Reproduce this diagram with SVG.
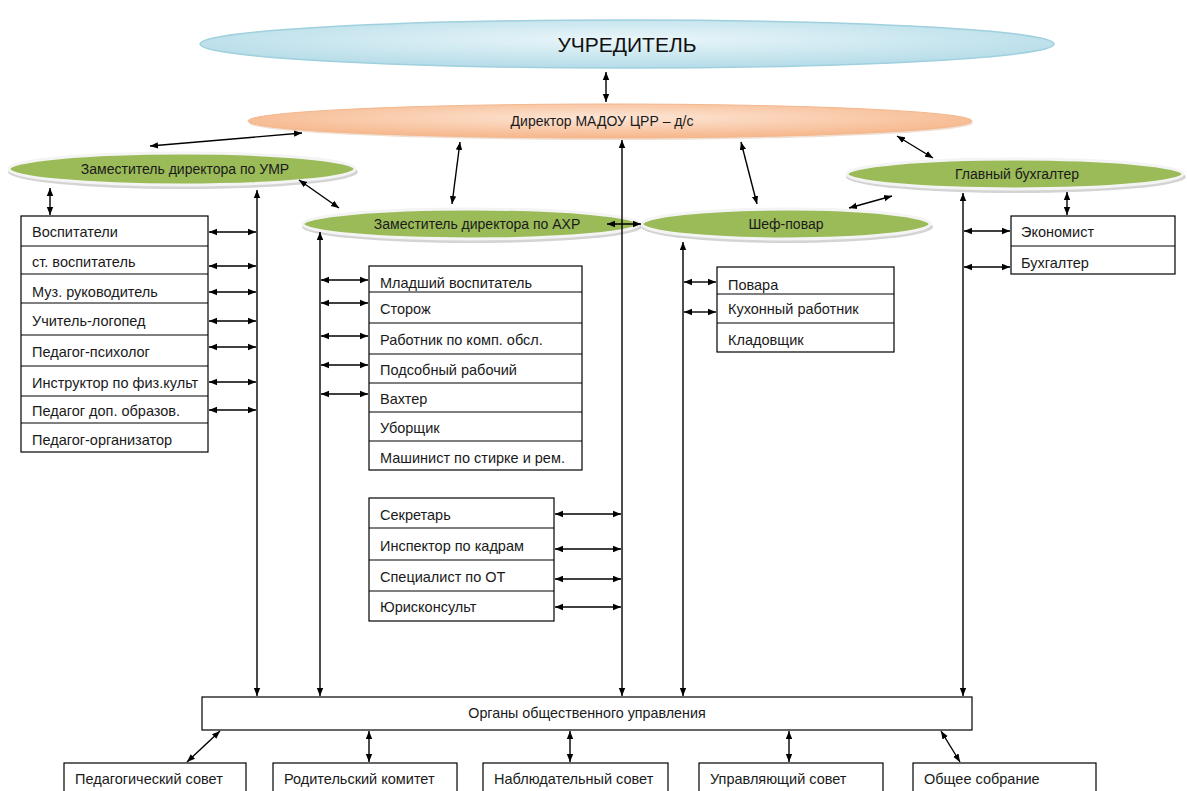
<svg xmlns="http://www.w3.org/2000/svg" width="1187" height="791" viewBox="0 0 1187 791">
<defs>
<radialGradient id="gBlue" cx="50%" cy="40%" r="60%">
<stop offset="0" stop-color="#eaf6fa"/><stop offset="1" stop-color="#b5dce8"/>
</radialGradient>
<radialGradient id="gPeach" cx="50%" cy="40%" r="60%">
<stop offset="0" stop-color="#fde6d6"/><stop offset="1" stop-color="#f6b68a"/>
</radialGradient>
<marker id="ah" viewBox="0 0 10 10" refX="10" refY="5" markerWidth="8" markerHeight="8" markerUnits="userSpaceOnUse" orient="auto-start-reverse">
<path d="M0,1 L10,5 L0,9 z" fill="#000"/>
</marker>
</defs>
<style>
.t{font-family:"Liberation Sans",Arial,sans-serif;font-size:14.5px;fill:#1a1a1a}
.tc{font-family:"Liberation Sans",Arial,sans-serif;font-size:14px;fill:#1a1a1a;text-anchor:middle}
.box{fill:#fff;stroke:#000;stroke-width:1.2}
.sh{fill:#d4d4d4}
.gr{fill:#9bbb59;stroke:#f4f4f4;stroke-width:3}
.c line{stroke:#000;stroke-width:1.4;marker-start:url(#ah);marker-end:url(#ah)}
</style>
<rect width="1187" height="791" fill="#fff"/>

<g id="uchreditel">
<ellipse cx="627" cy="44" rx="427" ry="24" fill="url(#gBlue)" stroke="#9fd0de" stroke-width="1.5"/>
<text x="627" y="52" class="tc" style="font-size:21px;fill:#111">УЧРЕДИТЕЛЬ</text>
</g>

<g id="director">
<ellipse cx="611" cy="123" rx="362" ry="17" fill="#e6c9b4" opacity="0.6"/>
<ellipse cx="610" cy="121" rx="362" ry="17" fill="url(#gPeach)" stroke="#f3b88e" stroke-width="1"/>
<text x="602" y="126" class="tc">Директор МАДОУ ЦРР – д/с</text>
</g>

<g id="zam-umr">
<ellipse cx="183" cy="172" rx="175" ry="17" class="sh"/>
<ellipse cx="182" cy="169" rx="173" ry="16" class="gr"/>
<text x="185" y="174" class="tc">Заместитель директора по УМР</text>
</g>

<g id="zam-axr">
<ellipse cx="472" cy="227" rx="170" ry="16" class="sh"/>
<ellipse cx="471" cy="224" rx="168" ry="15" class="gr"/>
<text x="477" y="229" class="tc">Заместитель директора по АХР</text>
</g>

<g id="chef">
<ellipse cx="787" cy="227" rx="146" ry="16" class="sh"/>
<ellipse cx="786" cy="224" rx="144" ry="15" class="gr"/>
<text x="786" y="229" class="tc">Шеф-повар</text>
</g>

<g id="glavbuh">
<ellipse cx="1016" cy="177" rx="170" ry="16" class="sh"/>
<ellipse cx="1015" cy="174" rx="168" ry="15" class="gr"/>
<text x="1017" y="179" class="tc">Главный бухгалтер</text>
</g>

<g id="umr-staff">
<rect x="21" y="216" width="187" height="236" class="box"/>
<line x1="21" y1="246" x2="208" y2="246" stroke="#000" stroke-width="1.2"/>
<line x1="21" y1="274" x2="208" y2="274" stroke="#000" stroke-width="1.2"/>
<line x1="21" y1="303" x2="208" y2="303" stroke="#000" stroke-width="1.2"/>
<line x1="21" y1="335" x2="208" y2="335" stroke="#000" stroke-width="1.2"/>
<line x1="21" y1="366" x2="208" y2="366" stroke="#000" stroke-width="1.2"/>
<line x1="21" y1="396" x2="208" y2="396" stroke="#000" stroke-width="1.2"/>
<line x1="21" y1="423" x2="208" y2="423" stroke="#000" stroke-width="1.2"/>
<text x="32" y="237" class="t">Воспитатели</text>
<text x="32" y="267" class="t">ст. воспитатель</text>
<text x="32" y="297" class="t">Муз. руководитель</text>
<text x="32" y="326" class="t">Учитель-логопед</text>
<text x="32" y="357" class="t">Педагог-психолог</text>
<text x="32" y="388" class="t">Инструктор по физ.культ</text>
<text x="32" y="416" class="t">Педагог доп. образов.</text>
<text x="32" y="445" class="t">Педагог-организатор</text>
</g>

<g id="axr-staff">
<rect x="369" y="266" width="213" height="204" class="box"/>
<line x1="369" y1="292" x2="582" y2="292" stroke="#000" stroke-width="1.2"/>
<line x1="369" y1="323" x2="582" y2="323" stroke="#000" stroke-width="1.2"/>
<line x1="369" y1="354" x2="582" y2="354" stroke="#000" stroke-width="1.2"/>
<line x1="369" y1="383" x2="582" y2="383" stroke="#000" stroke-width="1.2"/>
<line x1="369" y1="412" x2="582" y2="412" stroke="#000" stroke-width="1.2"/>
<line x1="369" y1="441" x2="582" y2="441" stroke="#000" stroke-width="1.2"/>
<text x="380" y="288" class="t">Младший воспитатель</text>
<text x="380" y="314" class="t">Сторож</text>
<text x="380" y="345" class="t">Работник по комп. обсл.</text>
<text x="380" y="375" class="t">Подсобный рабочий</text>
<text x="380" y="404" class="t">Вахтер</text>
<text x="380" y="433" class="t">Уборщик</text>
<text x="380" y="463" class="t">Машинист по стирке и рем.</text>
</g>

<g id="admin-staff">
<rect x="369" y="498" width="185" height="123" class="box"/>
<line x1="369" y1="528" x2="554" y2="528" stroke="#000" stroke-width="1.2"/>
<line x1="369" y1="560" x2="554" y2="560" stroke="#000" stroke-width="1.2"/>
<line x1="369" y1="591" x2="554" y2="591" stroke="#000" stroke-width="1.2"/>
<text x="380" y="520" class="t">Секретарь</text>
<text x="380" y="551" class="t">Инспектор по кадрам</text>
<text x="380" y="582" class="t">Специалист по ОТ</text>
<text x="380" y="612" class="t">Юрисконсульт</text>
</g>

<g id="kitchen-staff">
<rect x="717" y="267" width="177" height="85" class="box"/>
<line x1="717" y1="294" x2="894" y2="294" stroke="#000" stroke-width="1.2"/>
<line x1="717" y1="323" x2="894" y2="323" stroke="#000" stroke-width="1.2"/>
<text x="728" y="290" class="t">Повара</text>
<text x="728" y="314" class="t">Кухонный  работник</text>
<text x="728" y="345" class="t">Кладовщик</text>
</g>

<g id="buh-staff">
<rect x="1011" y="216" width="164" height="58" class="box"/>
<line x1="1011" y1="246" x2="1175" y2="246" stroke="#000" stroke-width="1.2"/>
<text x="1021" y="237" class="t">Экономист</text>
<text x="1021" y="268" class="t">Бухгалтер</text>
</g>

<g id="organy">
<rect x="202" y="697" width="770" height="33" class="box"/>
<text x="587" y="718" class="tc" style="font-size:14.3px">Органы общественного управления</text>
</g>

<g id="ped-sovet">
<rect x="64" y="763" width="182" height="40" class="box"/>
<text x="75" y="784" class="t">Педагогический совет</text>
</g>
<g id="rod-komitet">
<rect x="273" y="763" width="184" height="40" class="box"/>
<text x="284" y="784" class="t">Родительский комитет</text>
</g>
<g id="nabl-sovet">
<rect x="483" y="763" width="185" height="40" class="box"/>
<text x="494" y="784" class="t">Наблюдательный совет</text>
</g>
<g id="upr-sovet">
<rect x="699" y="763" width="184" height="40" class="box"/>
<text x="710" y="784" class="t">Управляющий совет</text>
</g>
<g id="obshee-sobranie">
<rect x="913" y="763" width="183" height="40" class="box"/>
<text x="924" y="784" class="t">Общее собрание</text>
</g>

<g id="connectors" class="c">
<line x1="606" y1="72" x2="606" y2="102"/>
<line x1="150" y1="146" x2="302" y2="133"/>
<line x1="460" y1="142" x2="452" y2="204"/>
<line x1="741" y1="142" x2="757" y2="204"/>
<line x1="897" y1="136" x2="933" y2="158"/>
<line x1="299" y1="180" x2="339" y2="208"/>
<line x1="607" y1="224" x2="641" y2="224"/>
<line x1="849" y1="208" x2="892" y2="196"/>
<line x1="1067" y1="192" x2="1067" y2="215"/>
<line x1="50" y1="188" x2="50" y2="215"/>
<line x1="257" y1="190" x2="257" y2="696"/>
<line x1="320" y1="232" x2="320" y2="696"/>
<line x1="622" y1="140" x2="622" y2="696"/>
<line x1="683" y1="242" x2="683" y2="696"/>
<line x1="963" y1="193" x2="963" y2="696"/>
<line x1="209" y1="232" x2="256" y2="232"/>
<line x1="209" y1="266" x2="256" y2="266"/>
<line x1="209" y1="292" x2="256" y2="292"/>
<line x1="209" y1="321" x2="256" y2="321"/>
<line x1="209" y1="347" x2="256" y2="347"/>
<line x1="209" y1="382" x2="256" y2="382"/>
<line x1="209" y1="410" x2="256" y2="410"/>
<line x1="321" y1="280" x2="368" y2="280"/>
<line x1="321" y1="303" x2="368" y2="303"/>
<line x1="321" y1="336" x2="368" y2="336"/>
<line x1="321" y1="365" x2="368" y2="365"/>
<line x1="321" y1="394" x2="368" y2="394"/>
<line x1="555" y1="514" x2="621" y2="514"/>
<line x1="555" y1="549" x2="621" y2="549"/>
<line x1="555" y1="579" x2="621" y2="579"/>
<line x1="555" y1="607" x2="621" y2="607"/>
<line x1="684" y1="282" x2="716" y2="282"/>
<line x1="684" y1="312" x2="716" y2="312"/>
<line x1="964" y1="231" x2="1010" y2="231"/>
<line x1="964" y1="267" x2="1010" y2="267"/>
<line x1="220" y1="731" x2="187" y2="762"/>
<line x1="369" y1="731" x2="369" y2="762"/>
<line x1="570" y1="731" x2="570" y2="762"/>
<line x1="789" y1="731" x2="789" y2="762"/>
<line x1="941" y1="731" x2="960" y2="762"/>
</g>
</svg>
